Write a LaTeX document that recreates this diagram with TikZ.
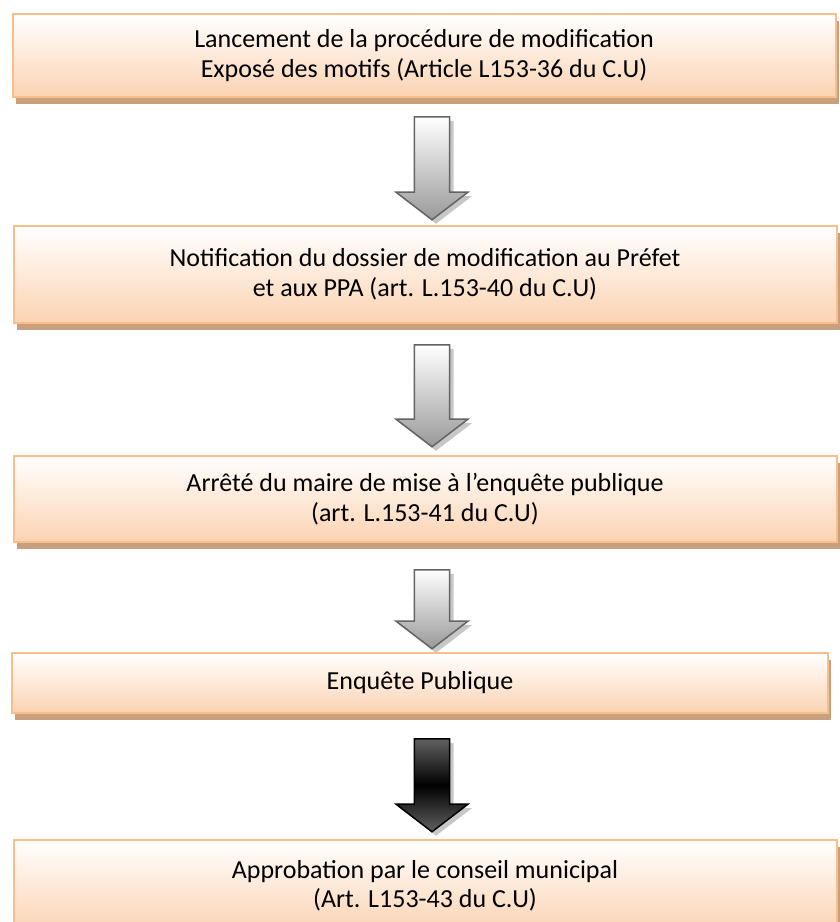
\documentclass[tikz,border=0pt]{standalone}
\usepackage{fontspec}
\setmainfont{Carlito}
\usetikzlibrary{positioning,shapes.arrows,shadows}
\definecolor{peach}{HTML}{FBD3B2}
\definecolor{peachline}{HTML}{F8BE8C}
\definecolor{tanshadow}{HTML}{C9A07E}
\definecolor{arrowline}{HTML}{646464}

\begin{document}
\begin{tikzpicture}[x=1pt, y=-1pt,
  font=\fontsize{26}{29.5}\selectfont,
  stepbox/.style={draw=peachline, line width=2pt, top color=white, bottom color=peach,
              minimum width=823pt, minimum height=#1, align=center, inner sep=0pt,
              drop shadow={shadow xshift=3pt, shadow yshift=-7pt, fill=tanshadow, opacity=1}},
  stepbox/.default=85pt,
  downarrow/.style={single arrow, shape border rotate=270, draw=arrowline, line width=1.5pt,
              inner sep=16.5pt, minimum width=72pt, minimum height=#1,
              single arrow head extend=18pt, single arrow tip angle=105,
              top color=white, bottom color=black!40,
              drop shadow={shadow xshift=4pt, shadow yshift=-4pt, fill=black!22, opacity=1}},
  darkarrow/.style={downarrow=#1, draw=black, top color=black!62, bottom color=black!62,
              middle color=black}]
\useasboundingbox (0,0) rectangle (840,922);
\clip (0,0) rectangle (840,922);
\node[stepbox=83pt] (launch) at (424,55.5) {Lancement de la procédure de modification\\Exposé des motifs (Article L153-36 du C.U)};
\node[stepbox=97pt] (notif) at (425,274.5) {Notification du dossier de modification au Préfet\\et aux PPA (art. L.153-40 du C.U)};
\node[stepbox=86pt] (order) at (425,499) {Arrêté du maire de mise à l’enquête publique\\(art. L.153-41 du C.U)};
\node[stepbox=60pt, minimum width=816pt] (inquiry) at (420,683) {Enquête Publique};
\node[stepbox=92pt] (approval) at (425,886) {Approbation par le conseil municipal\\(Art. L153-43 du C.U)};
\node[downarrow=103pt] (a1) at (432,161.5) {};
\node[downarrow=102pt] (a2) at (432,389) {};
\node[downarrow=79pt]  (a3) at (432,602.5) {};
\node[darkarrow=93pt]  (a4) at (432,778.5) {};
\end{tikzpicture}
\end{document}
